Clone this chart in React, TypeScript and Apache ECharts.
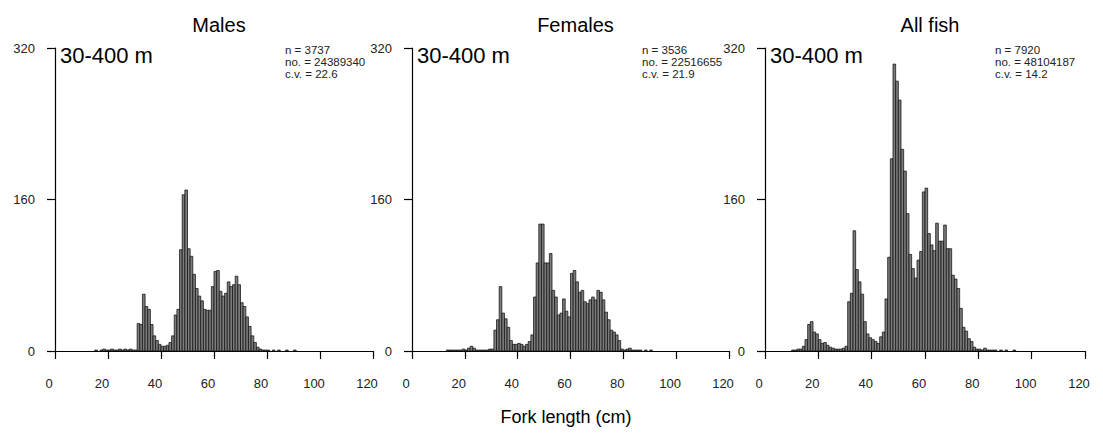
import React, { useEffect, useRef } from "react";
import * as echarts from "echarts";

// Bins are 1 cm wide, first bin starts at BIN_START cm
const BIN_START = 10;

const maleCounts = [
  0, 0, 0, 0, 0, 1, 0, 1, 2, 1, 1, 2, 1, 1, 2, 1, 2, 1, 2, 1, 1,
  29, 28, 60, 47, 44, 28, 16, 11, 7, 5, 5, 6, 9, 16, 38, 44, 107, 165, 170, 108,
  100, 81, 66, 58, 53, 44, 43, 43, 68, 84, 85, 63, 58, 61, 73, 68, 70, 79, 70, 51,
  47, 36, 26, 16, 9, 4, 2, 1, 1, 1, 0, 1, 0, 1, 0, 0, 1, 0, 0, 1,
  0, 0, 0, 0, 0, 0, 0, 0, 0,
];

const femaleCounts = [
  0, 0, 0, 1, 1, 1, 1, 1, 1, 2, 1, 3, 5, 3, 1, 1, 1, 1, 1, 2, 2,
  22, 33, 68, 40, 34, 25, 11, 7, 7, 8, 7, 5, 7, 10, 17, 57, 93, 134, 134, 93,
  93, 103, 64, 57, 38, 40, 55, 42, 36, 82, 85, 73, 62, 64, 52, 50, 54, 57, 54, 64,
  62, 54, 41, 33, 22, 20, 17, 11, 2, 1, 2, 3, 1, 1, 1, 1, 0, 1, 0, 1,
  0, 0, 0, 0, 0, 0, 0, 0, 0,
];

const allCounts = [
  1, 1, 2, 2, 5, 12, 28, 31, 20, 18, 12, 8, 9, 6, 4, 3, 2, 2, 2, 3, 5,
  52, 61, 127, 86, 73, 60, 31, 18, 14, 12, 10, 8, 15, 20, 55, 99, 203, 303, 285, 265,
  213, 190, 145, 102, 87, 77, 96, 105, 168, 172, 124, 112, 106, 135, 116, 116, 133, 108, 108, 80,
  76, 66, 45, 25, 21, 13, 10, 4, 2, 2, 1, 3, 1, 1, 1, 1, 0, 1, 0, 1,
  0, 0, 1, 0, 0, 0, 0, 0, 0,
];

const panelTitles = ["Males", "Females", "All fish"];
const depthLabel = "30-400 m";
const statN = ["n = 3737", "n = 3536", "n = 7920"];
const statNo = ["no. = 24389340", "no. = 22516655", "no. = 48104187"];
const statCv = ["c.v. = 22.6", "c.v. = 21.9", "c.v. = 14.2"];
const xTitle = "Fork length (cm)";
const xMin = 0, xMax = 120, xStep = 20;
const yMin = 0, yMax = 320, yStep = 160;

const FONT = "'Liberation Sans', Arial, sans-serif";

const grids = [
  { left: 55, width: 318 },
  { left: 412, width: 317 },
  { left: 765, width: 320 },
];
const GRID_TOP = 48;
const GRID_H = 303;

function toData(counts: number[]) {
  return counts.map((v, i) => [BIN_START + i, v]);
}

export default function App() {
  const ref = useRef<HTMLDivElement>(null);
  useEffect(() => {
    if (!ref.current) return;
    const chart = echarts.init(ref.current, null, { renderer: "svg" });
    const seriesData = [maleCounts, femaleCounts, allCounts];

    const renderItem = (params: any, api: any) => {
      const x0 = api.value(0);
      const v = api.value(1);
      if (!v) return null;
      const p0 = api.coord([x0, v]);
      const p1 = api.coord([x0 + 1, 0]);
      return {
        type: "rect",
        shape: { x: p0[0], y: p0[1], width: p1[0] - p0[0], height: p1[1] - p0[1] },
        style: { fill: "#7c7c7c", stroke: "#111", lineWidth: 0.75 },
      };
    };

    const graphics: any[] = [];
    grids.forEach((g, i) => {
      graphics.push({
        type: "text",
        left: g.left + 5,
        top: 44,
        style: { text: depthLabel, font: `22px ${FONT}`, fill: "#000" },
      });
      graphics.push({
        type: "text",
        left: g.left + 230,
        top: 44,
        style: {
          text: [statN[i], statNo[i], statCv[i]].join("\n"),
          font: `11.5px ${FONT}`,
          lineHeight: 12,
          fill: "#222",
        },
      });
    });

    const option: any = {
      animation: false,
      backgroundColor: "#fff",
      title: [
        ...grids.map((g, i) => ({
          text: panelTitles[i],
          left: g.left + g.width / 2,
          top: 10,
          textAlign: "center",
          textStyle: { fontFamily: FONT, fontSize: 20, fontWeight: "normal", color: "#000" },
        })),
        {
          text: xTitle,
          left: 561,
          top: 403,
          textAlign: "center",
          textStyle: { fontFamily: FONT, fontSize: 18, fontWeight: "normal", color: "#000" },
        },
      ],
      grid: grids.map((g) => ({ left: g.left, width: g.width, top: GRID_TOP, height: GRID_H })),
      xAxis: grids.map((_, i) => ({
        type: "value",
        gridIndex: i,
        min: xMin,
        max: xMax,
        interval: xStep,
        axisLine: { show: true, lineStyle: { color: "#000", width: 1.2 } },
        axisTick: { show: true, length: 8, lineStyle: { color: "#000", width: 1.2 } },
        axisLabel: { margin: 26, fontFamily: FONT, fontSize: 13, color: "#222", padding: [0, 12, 0, 0] },
        splitLine: { show: false },
      })),
      yAxis: grids.map((_, i) => ({
        type: "value",
        gridIndex: i,
        min: yMin,
        max: yMax,
        interval: yStep,
        axisLine: { show: true, lineStyle: { color: "#000", width: 1.2 } },
        axisTick: { show: true, length: 8, lineStyle: { color: "#000", width: 1.2 } },
        axisLabel: { margin: 20, fontFamily: FONT, fontSize: 13, color: "#222" },
        splitLine: { show: false },
      })),
      series: seriesData.map((d, i) => ({
        type: "custom",
        xAxisIndex: i,
        yAxisIndex: i,
        renderItem,
        data: toData(d),
        encode: { x: 0, y: 1 },
      })),
      graphic: graphics,
    };
    chart.setOption(option);
    return () => chart.dispose();
  }, []);
  return (
    <div
      ref={ref}
      style={{ position: "fixed", left: 0, top: 0, width: 1103, height: 434, background: "#fff" }}
    />
  );
}
